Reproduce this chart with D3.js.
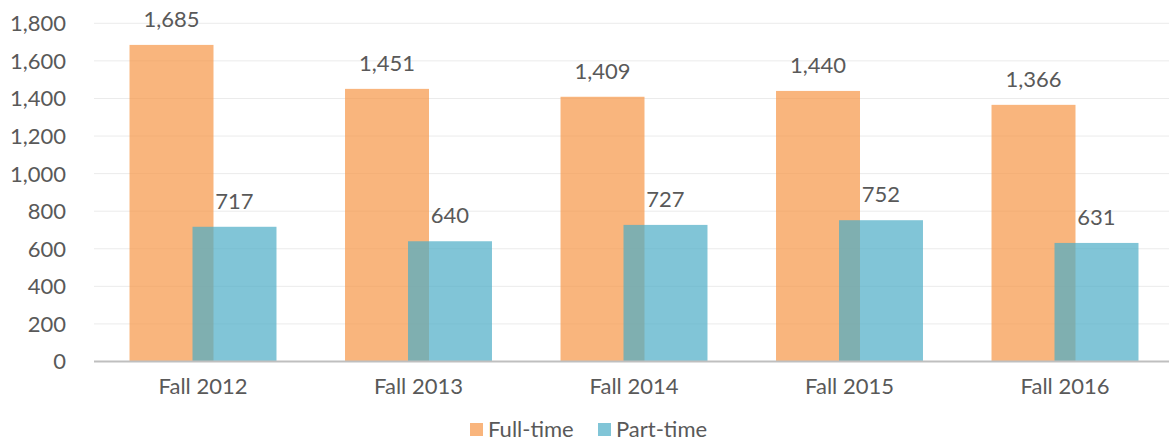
<!DOCTYPE html>
<html>
<head>
<meta charset="utf-8">
<script src="https://cdn.jsdelivr.net/npm/d3@7"></script>
<style>
  body { margin: 0; background: #fff; }
  text { font-family: Lato, "Open Sans", sans-serif; fill: #595959; }
</style>
</head>
<body>
<div id="plot"></div>
<script>
// chart data
var categories = ["Fall 2012", "Fall 2013", "Fall 2014", "Fall 2015", "Fall 2016"];
var seriesNames = ["Full-time", "Part-time"];
var fullTime = [1685, 1451, 1409, 1440, 1366];
var partTime = [717, 640, 727, 752, 631];
var yTicks = [0, 200, 400, 600, 800, 1000, 1200, 1400, 1600, 1800];

var width = 1169, height = 443;
var colors = { "Full-time": "#F79646", "Part-time": "#4BACC6" };
var fontSize = "22px";

var svg = d3.select("div#plot").append("svg")
    .attr("width", width)
    .attr("height", height);

// x: category bands, group width covers both overlapping bars
var x0 = d3.scaleBand()
    .domain(categories)
    .range([95.25, 1172.75])
    .paddingInner(0.318)
    .paddingOuter(0.159);

var barW = x0.bandwidth() / 1.75;   // bars overlap by 25%
var x1 = d3.scaleOrdinal()
    .domain(seriesNames)
    .range([0, barW * 0.75]);

var y = d3.scaleLinear()
    .domain([0, 1800])
    .range([361.5, 23.3]);

var fmt = d3.format(",");

// gridlines
svg.append("g")
  .selectAll("line")
  .data(yTicks.filter(d => d > 0))
  .enter().append("line")
    .attr("x1", 94).attr("x2", width)
    .attr("y1", d => y(d)).attr("y2", d => y(d))
    .attr("stroke", "#EBEBEB")
    .attr("stroke-width", 1);

// y axis labels
svg.append("g")
  .selectAll("text")
  .data(yTicks)
  .enter().append("text")
    .attr("x", 66)
    .attr("y", d => y(d))
    .attr("dy", "0.36em")
    .attr("text-anchor", "end")
    .style("font-size", fontSize)
    .text(d => fmt(d));

// build rows for bars
var rows = [];
categories.forEach(function(c, i) {
  rows.push({ cat: c, series: "Full-time", value: fullTime[i] });
  rows.push({ cat: c, series: "Part-time", value: partTime[i] });
});

svg.append("g")
  .selectAll("rect")
  .data(rows)
  .enter().append("rect")
    .attr("x", d => x0(d.cat) + x1(d.series))
    .attr("width", barW)
    .attr("y", d => y(d.value))
    .attr("height", d => y(0) - y(d.value))
    .attr("fill", d => colors[d.series])
    .attr("fill-opacity", 0.7);

// value labels
svg.append("g")
  .selectAll("text")
  .data(rows)
  .enter().append("text")
    .attr("x", d => x0(d.cat) + x1(d.series) + barW / 2)
    .attr("y", d => y(d.value) - 18)
    .attr("text-anchor", "middle")
    .style("font-size", fontSize)
    .text(d => fmt(d.value));

// x axis line
svg.append("line")
    .attr("x1", 94).attr("x2", width)
    .attr("y1", y(0)).attr("y2", y(0))
    .attr("stroke", "#BFBFBF")
    .attr("stroke-width", 2);

// x labels
svg.append("g")
  .selectAll("text")
  .data(categories)
  .enter().append("text")
    .attr("x", d => x0(d) + x0.bandwidth() / 2)
    .attr("y", 394)
    .attr("text-anchor", "middle")
    .style("font-size", fontSize)
    .text(d => d);

// legend
var legendX = [470, 598];
var legend = svg.selectAll(".legend")
    .data(seriesNames)
    .enter().append("g")
    .attr("class", "legend")
    .attr("transform", (d, i) => "translate(" + legendX[i] + ",423)");

legend.append("rect")
    .attr("width", 13)
    .attr("height", 13)
    .attr("fill", d => colors[d])
    .attr("fill-opacity", 0.7);

legend.append("text")
    .attr("x", 18)
    .attr("y", 14)
    .style("font-size", fontSize)
    .text(d => d);
</script>
</body>
</html>
